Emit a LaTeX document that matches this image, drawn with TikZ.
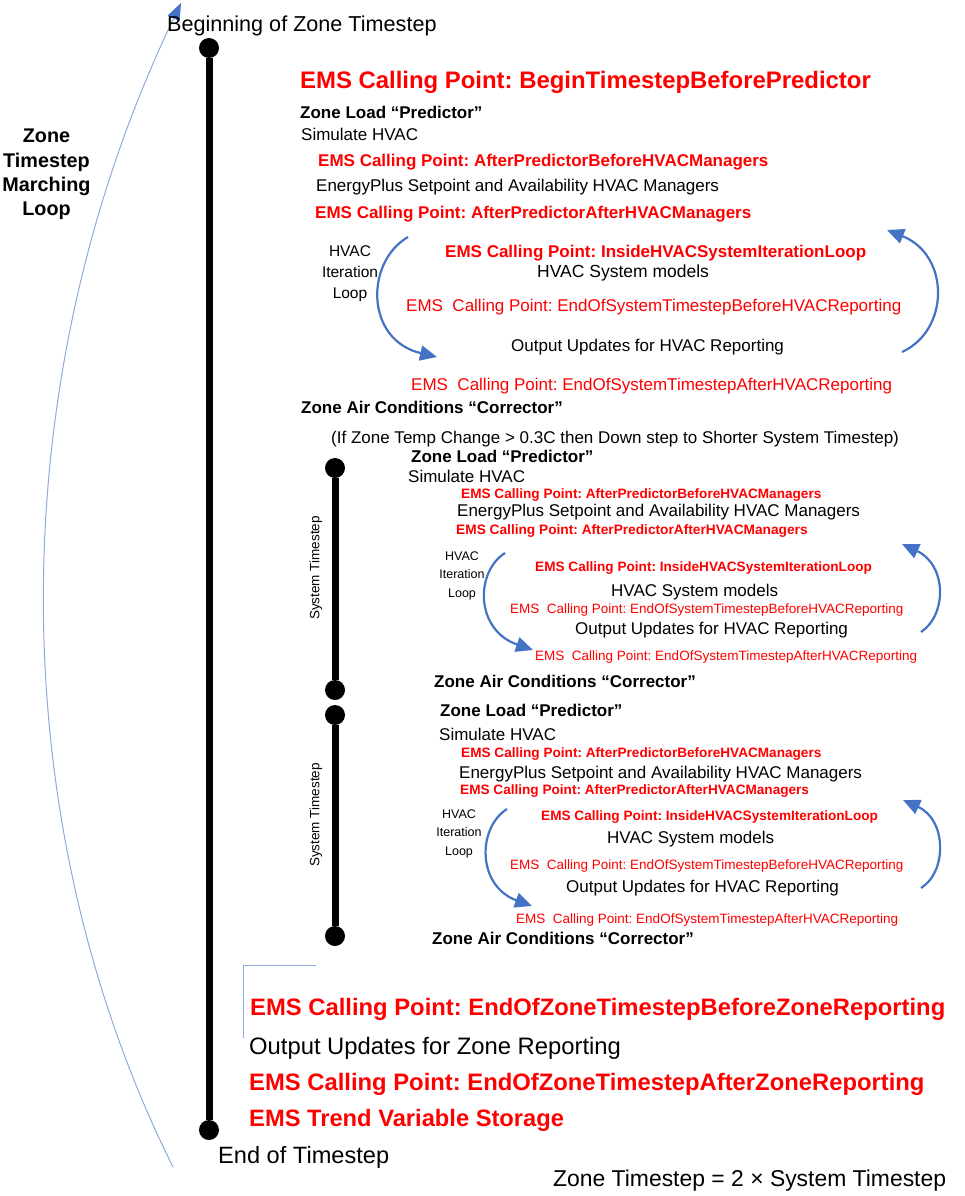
\documentclass[tikz,border=0pt]{standalone}
\usepackage{fontspec}
\setmainfont{Liberation Sans}
\usetikzlibrary{arrows.meta}
\frenchspacing

\definecolor{emsred}{HTML}{FF0000}
\definecolor{loopblue}{HTML}{4472C4}
\definecolor{paleblue}{HTML}{8FAADC}

\tikzset{
  ptxt/.style={anchor=base west, inner sep=0pt, font=\fontsize{#1}{#1}\selectfont},
  btxt/.style={anchor=base west, inner sep=0pt, font=\fontsize{#1}{#1}\selectfont\bfseries},
  ems/.style={text=emsred},
  dot/.style={circle, fill=black, minimum size=20pt, inner sep=0pt},
  spine/.style={line width=7pt},
  loopar/.style={draw=loopblue, line width=2.2pt, -{Triangle[length=17pt,width=15pt]}},
  bigloop/.style={draw=paleblue, line width=1pt, -{Triangle[length=17pt,width=13pt,color=loopblue]}}
}

\begin{document}
\begin{tikzpicture}[x=1pt, y=-1pt]
    \useasboundingbox (0,0) rectangle (965,1196);

    % Zone timestep marching loop
    \coordinate (mlbot) at (173,1167);
    \coordinate (mltop) at (181,3);
    \draw[bigloop] (mlbot) .. controls (0,820) and (0,380) .. (mltop);
    \node[align=center, inner sep=0pt, font=\fontsize{19.8}{24.3}\selectfont\bfseries] (mlabel) at (46.5,174.6) {Zone\\Timestep\\Marching\\Loop};

    % Main zone timestep line
    \node[dot] (zbeg) at (209,48) {};
    \node[dot] (zend) at (209,1130) {};
    \draw[spine] (zbeg) -- (zend);
    \node[ptxt=21.6] (begin) at (167,32) {Beginning of Zone Timestep};
    \node[ptxt=23.6] (finish) at (218,1163.5) {End of Timestep};

    % Zone timestep (top)
    \node[btxt=23.9, ems] (btbp) at (300,88.6) {EMS Calling Point: BeginTimestepBeforePredictor};
    \node[btxt=17] (zlp1) at (300,118) {Zone Load “Predictor”};
    \node[ptxt=17] (sim1) at (301,141) {Simulate HVAC};
    \node[btxt=17, ems] (apbm1) at (318,166) {EMS Calling Point: AfterPredictorBeforeHVACManagers};
    \node[ptxt=17] (mgr1) at (316,191) {EnergyPlus Setpoint and Availability HVAC Managers};
    \node[btxt=17, ems] (apam1) at (315,218) {EMS Calling Point: AfterPredictorAfterHVACManagers};
    \node[align=center, inner sep=0pt, font=\fontsize{15.5}{21}\selectfont] (iter1) at (350,273.7) {HVAC\\Iteration\\Loop};
    \node[btxt=17, ems] (inside1) at (445,257) {EMS Calling Point: InsideHVACSystemIterationLoop};
    \node[ptxt=17.5] (hsm1) at (537,277) {HVAC System models};
    \node[ptxt=17, ems] (eobr1) at (406,311) {EMS\ \ Calling Point: EndOfSystemTimestepBeforeHVACReporting};
    \node[ptxt=17] (ouhr1) at (511,351) {Output Updates for HVAC Reporting};
    \node[ptxt=17, ems] (eoar1) at (411,390) {EMS\ \ Calling Point: EndOfSystemTimestepAfterHVACReporting};
    \node[btxt=17] (zac1) at (301,413) {Zone Air Conditions “Corrector”};
    \node[ptxt=17] (note) at (331,443) {(If Zone Temp Change > 0.3C then Down step to Shorter System Timestep)};
    \coordinate (l1a) at (408,237);
    \coordinate (l1b) at (437,357);
    \draw[loopar] (l1a) .. controls (365,262) and (365,340) .. (l1b);
    \coordinate (r1a) at (902,352);
    \coordinate (r1b) at (887,230);
    \draw[loopar] (r1a) .. controls (950,330) and (950,255) .. (r1b);

    % First system timestep
    \node[dot] (s1beg) at (335,468) {};
    \node[dot] (s1end) at (335,690) {};
    \draw[spine] (s1beg) -- (s1end);
    \node[rotate=90, inner sep=0pt, font=\fontsize{13.5}{13.5}\selectfont] (st1) at (316,568) {System Timestep};
    \node[btxt=17] (zlp2) at (411,462) {Zone Load “Predictor”};
    \node[ptxt=17] (sim2) at (408,482) {Simulate HVAC};
    \node[btxt=13.6, ems] (apbm2) at (461,498) {EMS Calling Point: AfterPredictorBeforeHVACManagers};
    \node[ptxt=17] (mgr2) at (457,516) {EnergyPlus Setpoint and Availability HVAC Managers};
    \node[btxt=13.7, ems] (apam2) at (456,534) {EMS Calling Point: AfterPredictorAfterHVACManagers};
    \node[align=center, inner sep=0pt, font=\fontsize{12.5}{18.5}\selectfont] (iter2) at (462,575.8) {HVAC\\Iteration\\Loop};
    \node[btxt=13.6, ems] (inside2) at (535,571) {EMS Calling Point: InsideHVACSystemIterationLoop};
    \node[ptxt=17] (hsm2) at (611,596) {HVAC System models};
    \node[ptxt=13.5, ems] (eobr2) at (510,613) {EMS\ \ Calling Point: EndOfSystemTimestepBeforeHVACReporting};
    \node[ptxt=17] (ouhr2) at (575,634) {Output Updates for HVAC Reporting};
    \node[ptxt=13.5, ems] (eoar2) at (535,660) {EMS\ \ Calling Point: EndOfSystemTimestepAfterHVACReporting};
    \node[btxt=17] (zac2) at (434,687) {Zone Air Conditions “Corrector”};
    \coordinate (l2a) at (505,553);
    \coordinate (l2b) at (533,650);
    \draw[loopar] (l2a) .. controls (475,572) and (475,630) .. (l2b);
    \coordinate (r2a) at (921,632);
    \coordinate (r2b) at (902,544);
    \draw[loopar] (r2a) .. controls (947,615) and (947,565) .. (r2b);

    % Second system timestep
    \node[dot] (s2beg) at (335,715) {};
    \node[dot] (s2end) at (335,936) {};
    \draw[spine] (s2beg) -- (s2end);
    \node[rotate=90, inner sep=0pt, font=\fontsize{13.5}{13.5}\selectfont] (st2) at (316,815) {System Timestep};
    \node[btxt=17] (zlp3) at (440,716) {Zone Load “Predictor”};
    \node[ptxt=17] (sim3) at (439,740) {Simulate HVAC};
    \node[btxt=13.6, ems] (apbm3) at (461,757) {EMS Calling Point: AfterPredictorBeforeHVACManagers};
    \node[ptxt=17] (mgr3) at (459,778) {EnergyPlus Setpoint and Availability HVAC Managers};
    \node[btxt=13.6, ems] (apam3) at (460,794) {EMS Calling Point: AfterPredictorAfterHVACManagers};
    \node[align=center, inner sep=0pt, font=\fontsize{12.5}{18.5}\selectfont] (iter3) at (459,833.8) {HVAC\\Iteration\\Loop};
    \node[btxt=13.6, ems] (inside3) at (541,820) {EMS Calling Point: InsideHVACSystemIterationLoop};
    \node[ptxt=17] (hsm3) at (607,843) {HVAC System models};
    \node[ptxt=13.5, ems] (eobr3) at (510,869) {EMS\ \ Calling Point: EndOfSystemTimestepBeforeHVACReporting};
    \node[ptxt=17] (ouhr3) at (566,892) {Output Updates for HVAC Reporting};
    \node[ptxt=13.5, ems] (eoar3) at (516,923) {EMS\ \ Calling Point: EndOfSystemTimestepAfterHVACReporting};
    \node[btxt=17] (zac3) at (432,944) {Zone Air Conditions “Corrector”};
    \coordinate (l3a) at (507,809);
    \coordinate (l3b) at (532,906);
    \draw[loopar] (l3a) .. controls (477,828) and (477,886) .. (l3b);
    \coordinate (r3a) at (921,888);
    \coordinate (r3b) at (903,800);
    \draw[loopar] (r3a) .. controls (947,872) and (947,820) .. (r3b);

    % End of zone timestep
    \coordinate (brk1) at (316,965);
    \coordinate (brk2) at (243,965);
    \coordinate (brk3) at (243,1038);
    \draw[paleblue, line width=1pt] (brk1) -- (brk2) -- (brk3);
    \node[btxt=23.8, ems] (eozb) at (250,1015) {EMS Calling Point: EndOfZoneTimestepBeforeZoneReporting};
    \node[ptxt=23.8] (ouzr) at (249,1054) {Output Updates for Zone Reporting};
    \node[btxt=23.8, ems] (eoza) at (249,1090) {EMS Calling Point: EndOfZoneTimestepAfterZoneReporting};
    \node[btxt=23.7, ems] (trend) at (249,1126) {EMS Trend Variable Storage};

    % Note
    \node[ptxt=22.9] (ratio) at (553,1186) {Zone Timestep = 2 × System Timestep};
\end{tikzpicture}
\end{document}
